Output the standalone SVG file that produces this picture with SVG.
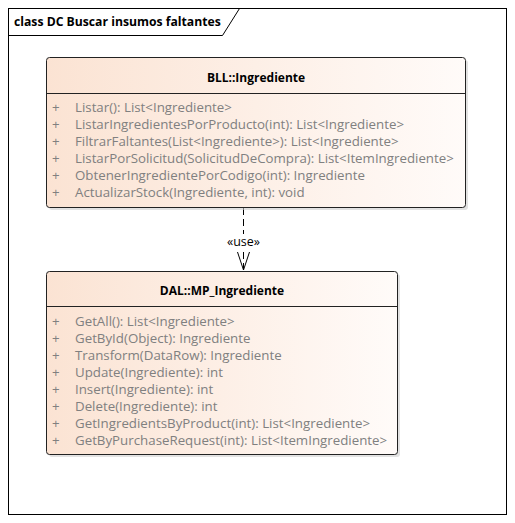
<svg xmlns="http://www.w3.org/2000/svg" width="515" height="523" viewBox="0 0 515 523">
<defs>
<linearGradient id="g" x1="0" y1="0" x2="1" y2="0">
<stop offset="0" stop-color="#FBE3D3"/>
<stop offset="1" stop-color="#FFFBF9"/>
</linearGradient>
<marker id="open" markerWidth="20" markerHeight="13" refX="18.5" refY="6.5" orient="auto" markerUnits="userSpaceOnUse" viewBox="0 0 20 13">
<path d="M0.5,0.5 L18.5,6.5 L0.5,12.5" fill="none" stroke="#000" stroke-width="1"/>
</marker>
</defs>
<style>
.frame{fill:#fff;stroke:#000;stroke-width:1}
.box{fill:url(#g);stroke:#222;stroke-width:1}
.shadow{fill:#cfcfcf;opacity:0.6}
.title{font-family:"Open Sans","Noto Sans",sans-serif;font-size:12px;font-weight:bold;fill:#000}
.m{font-family:"Open Sans","Noto Sans",sans-serif;font-size:13.3px;fill:#808080}
.ft{font-family:"Open Sans","Noto Sans",sans-serif;font-size:12.2px;font-weight:bold;fill:#000}
.lbl{font-family:"Open Sans","Noto Sans",sans-serif;font-size:12.5px;fill:#000}
</style>
<rect x="8.5" y="8.5" width="498" height="506" class="frame"/>
<path d="M8.5,35.5 H222.5 L239.5,8.5" fill="none" stroke="#000"/>
<text x="14" y="26" class="ft">class DC Buscar insumos faltantes</text>

<g id="connectors">
<line x1="243.5" y1="208" x2="243.5" y2="270" stroke="#000" stroke-dasharray="7,4" marker-end="url(#open)"/>
<rect x="224" y="234" width="39" height="15" fill="#fff"/>
<text x="243.5" y="246" text-anchor="middle" class="lbl">«use»</text>
</g>

<g id="bll">
<rect x="49" y="60" width="419" height="150" rx="3" class="shadow"/>
<rect x="46.5" y="57.5" width="419" height="150" rx="3" class="box"/>
<line x1="46.5" y1="93.5" x2="465.5" y2="93.5" stroke="#222"/>
<text x="256" y="82" text-anchor="middle" class="title">BLL::Ingrediente</text>
<g class="m">
<text x="52" y="112">+</text><text x="75" y="112">Listar(): List&lt;Ingrediente&gt;</text>
<text x="52" y="129">+</text><text x="75" y="129">ListarIngredientesPorProducto(int): List&lt;Ingrediente&gt;</text>
<text x="52" y="146">+</text><text x="75" y="146">FiltrarFaltantes(List&lt;Ingrediente&gt;): List&lt;Ingrediente&gt;</text>
<text x="52" y="163">+</text><text x="75" y="163">ListarPorSolicitud(SolicitudDeCompra): List&lt;ItemIngrediente&gt;</text>
<text x="52" y="180">+</text><text x="75" y="180">ObtenerIngredientePorCodigo(int): Ingrediente</text>
<text x="52" y="197">+</text><text x="75" y="197">ActualizarStock(Ingrediente, int): void</text>
</g>
</g>

<g id="dal">
<rect x="49" y="274" width="351" height="183" rx="3" class="shadow"/>
<rect x="46.5" y="271.5" width="351" height="183" rx="3" class="box"/>
<line x1="46.5" y1="306.5" x2="397.5" y2="306.5" stroke="#222"/>
<text x="222" y="295" text-anchor="middle" class="title">DAL::MP_Ingrediente</text>
<g class="m">
<text x="52" y="326">+</text><text x="75" y="326">GetAll(): List&lt;Ingrediente&gt;</text>
<text x="52" y="343">+</text><text x="75" y="343">GetById(Object): Ingrediente</text>
<text x="52" y="360">+</text><text x="75" y="360">Transform(DataRow): Ingrediente</text>
<text x="52" y="377">+</text><text x="75" y="377">Update(Ingrediente): int</text>
<text x="52" y="394">+</text><text x="75" y="394">Insert(Ingrediente): int</text>
<text x="52" y="411">+</text><text x="75" y="411">Delete(Ingrediente): int</text>
<text x="52" y="428">+</text><text x="75" y="428">GetIngredientsByProduct(int): List&lt;Ingrediente&gt;</text>
<text x="52" y="445">+</text><text x="75" y="445">GetByPurchaseRequest(int): List&lt;ItemIngrediente&gt;</text>
</g>
</g>
</svg>
